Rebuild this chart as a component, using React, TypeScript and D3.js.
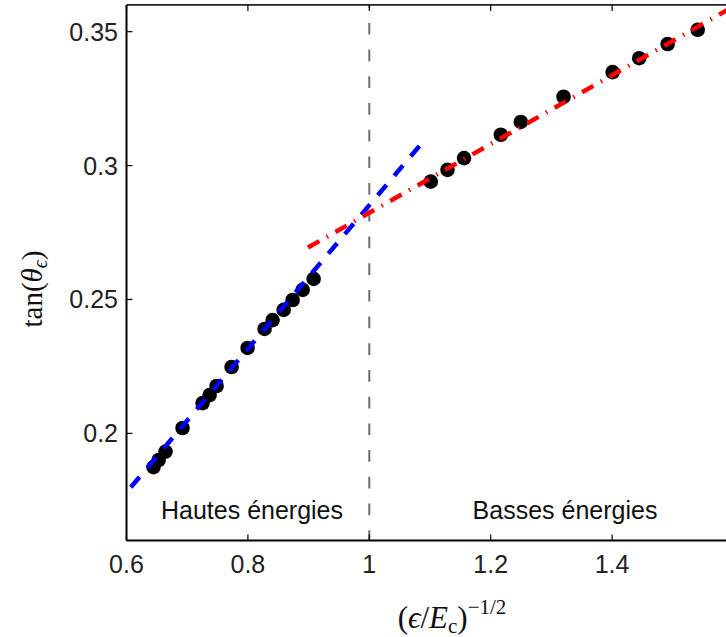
import React from 'react';
import * as d3 from 'd3';

// Left group: "Hautes énergies"
const hautesX = [0.6445, 0.6528, 0.6643, 0.6923, 0.7253, 0.7369, 0.7484, 0.7731, 0.7995, 0.8275, 0.8407, 0.8589, 0.8737, 0.8902, 0.9083];
const hautesY = [0.1874, 0.1900, 0.1932, 0.2020, 0.2113, 0.2143, 0.2177, 0.2248, 0.2319, 0.2390, 0.2423, 0.2461, 0.2498, 0.2536, 0.2577];
// Right group: "Basses énergies"
const bassesX = [1.1012, 1.1288, 1.1561, 1.2167, 1.2496, 1.3200, 1.4008, 1.4447, 1.4915, 1.5410];
const bassesY = [0.2940, 0.2984, 0.3028, 0.3115, 0.3163, 0.3257, 0.3349, 0.3401, 0.3454, 0.3507];
// Fit lines (endpoints)
const blueFitX = [0.58, 1.091];
const blueFitY = [0.1726, 0.3096];
const redFitX = [0.899, 1.61];
const redFitY = [0.2694, 0.3607];
// Ticks
const xTicks = [0.6, 0.8, 1.0, 1.2, 1.4];
const xTickLabels = ['0.6', '0.8', '1', '1.2', '1.4'];
const yTicks = [0.2, 0.25, 0.3, 0.35];
const yTickLabels = ['0.2', '0.25', '0.3', '0.35'];
const crossoverX = 1.0;

export default function App() {
  const W = 726, H = 637;
  const x = d3.scaleLinear().domain([0.6, 1.6]).range([126.5, 733.5]);
  const y = d3.scaleLinear().domain([0.16, 0.36]).range([540.5, 4.9]);
  const line = d3.line<[number, number]>().x(d => x(d[0])).y(d => y(d[1]));
  const x0 = x(0.6), x1 = x(1.6), yTop = y(0.36), yBot = y(0.16);
  const sans = '"Liberation Sans", Arial, sans-serif';
  const serif = '"Liberation Serif", "Times New Roman", serif';
  const blue = blueFitX.map((v, i) => [v, blueFitY[i]] as [number, number]);
  const red = redFitX.map((v, i) => [v, redFitY[i]] as [number, number]);
  return (
    <svg width={W} height={H} style={{ position: 'absolute', left: 0, top: 0, background: '#fff' }}>
      <defs>
        <clipPath id="plotclip">
          <rect x={x0} y={yTop} width={x1 - x0} height={yBot - yTop} />
        </clipPath>
      </defs>
      <rect x={0} y={0} width={W} height={H} fill="#fff" />
      <g clipPath="url(#plotclip)">
        <line x1={x(crossoverX)} x2={x(crossoverX)} y1={yTop} y2={yBot} stroke="#6e6e6e" strokeWidth={2} strokeDasharray="11.7 15" strokeDashoffset={8.7} />
        {hautesX.map((v, i) => (
          <circle key={'h' + i} cx={x(v)} cy={y(hautesY[i])} r={7.3} fill="#000" />
        ))}
        {bassesX.map((v, i) => (
          <circle key={'b' + i} cx={x(v)} cy={y(bassesY[i])} r={7.3} fill="#000" />
        ))}
        <path d={line(blue) || ''} fill="none" stroke="#0000ff" strokeWidth={4.5} strokeDasharray="13.5 12" />
        <path d={line(red) || ''} fill="none" stroke="#ff0000" strokeWidth={4.5} strokeDasharray="13 8.5 1.5 8.5" />
      </g>
      {/* spines */}
      <line x1={x0} x2={x1} y1={yTop} y2={yTop} stroke="#222" strokeWidth={1.6} />
      <line x1={x0} x2={x1} y1={yBot} y2={yBot} stroke="#000" strokeWidth={2} />
      <line x1={x0} x2={x0} y1={yTop} y2={yBot} stroke="#000" strokeWidth={2} />
      {/* x ticks */}
      {xTicks.map((t, i) => (
        <g key={'xt' + i}>
          <line x1={x(t)} x2={x(t)} y1={yBot} y2={yBot - 6} stroke="#000" strokeWidth={1.2} />
          <line x1={x(t)} x2={x(t)} y1={yTop} y2={yTop + 6} stroke="#000" strokeWidth={1.2} />
          <text x={x(t)} y={573} textAnchor="middle" fontFamily={sans} fontSize={25} fill="#222">{xTickLabels[i]}</text>
        </g>
      ))}
      {/* y ticks */}
      {yTicks.map((t, i) => (
        <g key={'yt' + i}>
          <line x1={x0} x2={x0 + 6} y1={y(t)} y2={y(t)} stroke="#000" strokeWidth={1.2} />
          <text x={118} y={y(t) + 9} textAnchor="end" fontFamily={sans} fontSize={25} fill="#222">{yTickLabels[i]}</text>
        </g>
      ))}
      {/* region labels */}
      <text x={252} y={519} textAnchor="middle" fontFamily={sans} fontSize={25} fill="#111">Hautes énergies</text>
      <text x={565} y={519} textAnchor="middle" fontFamily={sans} fontSize={25} fill="#111">Basses énergies</text>
      {/* x axis label */}
      <text x={452} y={628} textAnchor="middle" fontFamily={serif} fontSize={31} fill="#111">
        <tspan>(</tspan>
        <tspan fontStyle="italic">ϵ</tspan>
        <tspan>/</tspan>
        <tspan fontStyle="italic">E</tspan>
        <tspan fontSize={21} dy={5}>c</tspan>
        <tspan dy={-5}>)</tspan>
        <tspan fontSize={21} dy={-14}>−1/2</tspan>
      </text>
      {/* y axis label */}
      <text transform="translate(42,289) rotate(-90)" textAnchor="middle" fontFamily={serif} fontSize={29} fill="#111">
        <tspan>tan(</tspan>
        <tspan fontStyle="italic">θ</tspan>
        <tspan fontStyle="italic" fontSize={20} dy={5}>ϵ</tspan>
        <tspan dy={-5}>)</tspan>
      </text>
    </svg>
  );
}
